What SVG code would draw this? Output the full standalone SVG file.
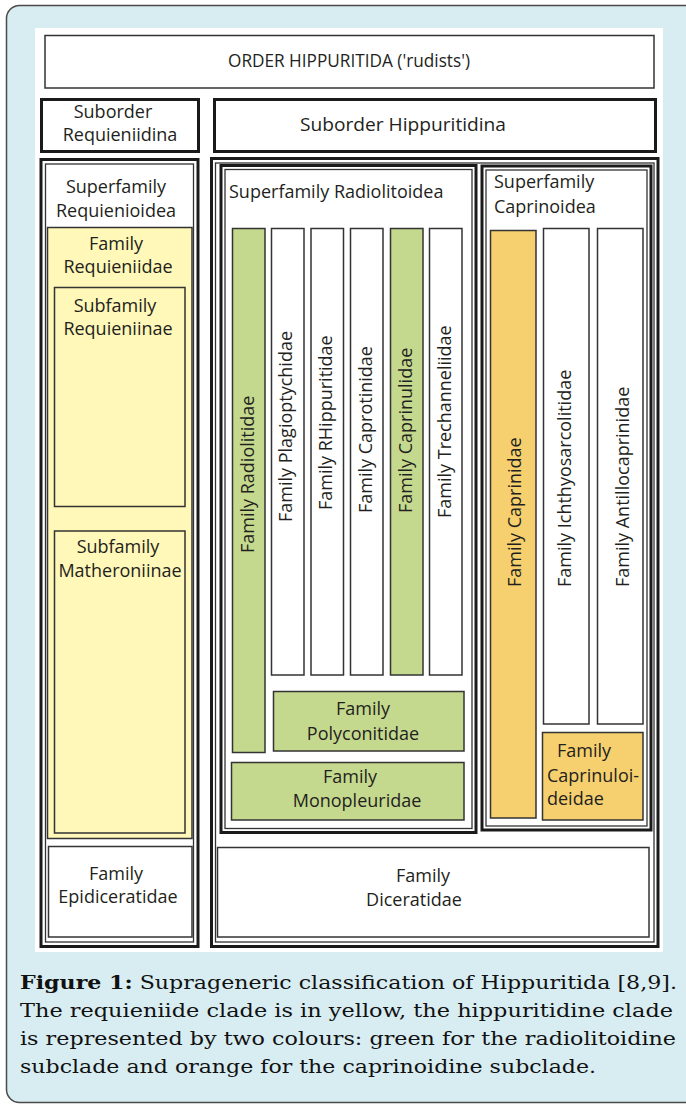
<svg xmlns="http://www.w3.org/2000/svg" width="686" height="1104" viewBox="0 0 686 1104">
<style>
.t{font-family:"Open Sans","Noto Sans",sans-serif;font-size:18px;fill:#231f20}
.m{text-anchor:middle}
.cap{font-family:"DejaVu Serif","Liberation Serif",serif;font-size:19px;fill:#111}
.thin{fill:#fff;stroke:#333;stroke-width:1.5}
.thick{fill:#fff;stroke:#1a1a1a;stroke-width:3}
.in{fill:none;stroke:#333;stroke-width:1.3}
.y{fill:#fff8b8;stroke:#333;stroke-width:1.5}
.g{fill:#c5d98e;stroke:#333;stroke-width:1.5}
.o{fill:#f6d06e;stroke:#333;stroke-width:1.5}
.w{fill:#fff;stroke:#333;stroke-width:1.5}
</style>
<rect x="6.5" y="5.5" width="700" height="1097" rx="13" fill="#d8edf2" stroke="#4a4a4a" stroke-width="1.5"/>
<rect x="35" y="28" width="628" height="924" fill="#fff"/>

<g id="order">
<rect class="thin" x="45" y="35.5" width="609" height="52.5"/>
<text class="t m" x="349" y="67" textLength="242" lengthAdjust="spacingAndGlyphs">ORDER HIPPURITIDA ('rudists')</text>
</g>
<g id="suborder-requieniidina">
<rect class="thick" x="41.5" y="99.5" width="157" height="52"/>
<text class="t m" x="113" y="118">Suborder</text>
<text class="t m" x="120" y="141">Requieniidina</text>
</g>
<g id="suborder-hippuritidina">
<rect class="thick" x="214.5" y="99.5" width="441" height="52"/>
<text class="t m" x="403" y="131" textLength="206" lengthAdjust="spacingAndGlyphs">Suborder Hippuritidina</text>
</g>

<g id="superfamily-requienioidea">
<rect class="thick" x="41" y="159.5" width="157" height="787"/>
<rect class="in" x="45.5" y="164" width="148" height="778"/>
<text class="t m" x="116" y="193">Superfamily</text>
<text class="t m" x="116" y="217">Requienioidea</text>
</g>
<g id="family-requieniidae">
<rect class="y" x="47.5" y="227.5" width="144.5" height="611"/>
<text class="t m" x="116" y="250">Family</text>
<text class="t m" x="118" y="273">Requieniidae</text>
</g>
<g id="subfamily-requieniinae">
<rect class="y" x="54.5" y="287.5" width="130.5" height="219"/>
<text class="t m" x="115" y="312">Subfamily</text>
<text class="t m" x="118" y="335">Requieniinae</text>
</g>
<g id="subfamily-matheroniinae">
<rect class="y" x="54.5" y="531" width="130.5" height="302"/>
<text class="t m" x="118" y="553">Subfamily</text>
<text class="t m" x="120" y="577">Matheroniinae</text>
</g>
<g id="family-epidiceratidae">
<rect class="w" x="48.5" y="846.5" width="143.5" height="90.5"/>
<text class="t m" x="116" y="880">Family</text>
<text class="t m" x="118" y="903">Epidiceratidae</text>
</g>

<g id="hippuritidina-container">
<rect class="thick" x="211.5" y="158.5" width="446.5" height="788"/>
<rect class="in" x="215.5" y="163" width="438.5" height="779"/>
</g>

<g id="superfamily-radiolitoidea">
<rect class="thick" x="221" y="165.5" width="255" height="667"/>
<rect class="in" x="225" y="169.5" width="247" height="659"/>
<text class="t" x="229" y="198">Superfamily Radiolitoidea</text>
</g>
<g id="family-radiolitidae">
<rect class="g" x="232.5" y="228.5" width="32.5" height="524"/>
<text class="t" transform="translate(254,553) rotate(-90)">Family Radiolitidae</text>
</g>
<g id="family-plagioptychidae">
<rect class="w" x="271.5" y="228.5" width="32.5" height="446.5"/>
<text class="t" transform="translate(292,522) rotate(-90)">Family Plagioptychidae</text>
</g>
<g id="family-rhippuritidae">
<rect class="w" x="311" y="228.5" width="32.5" height="446.5"/>
<text class="t" transform="translate(332,510) rotate(-90)">Family RHippuritidae</text>
</g>
<g id="family-caprotinidae">
<rect class="w" x="350.5" y="228.5" width="32.5" height="446.5"/>
<text class="t" transform="translate(372,513) rotate(-90)">Family Caprotinidae</text>
</g>
<g id="family-caprinulidae">
<rect class="g" x="390.5" y="228.5" width="32.5" height="446.5"/>
<text class="t" transform="translate(412,513) rotate(-90)">Family Caprinulidae</text>
</g>
<g id="family-trechanneliidae">
<rect class="w" x="429.5" y="228.5" width="32.5" height="446.5"/>
<text class="t" transform="translate(451,518) rotate(-90)">Family Trechanneliidae</text>
</g>
<g id="family-polyconitidae">
<rect class="g" x="273.5" y="691.5" width="190.5" height="59.5"/>
<text class="t m" x="363" y="715">Family</text>
<text class="t m" x="363" y="740">Polyconitidae</text>
</g>
<g id="family-monopleuridae">
<rect class="g" x="231.5" y="762.5" width="232.5" height="57.5"/>
<text class="t m" x="350" y="783">Family</text>
<text class="t m" x="357" y="807">Monopleuridae</text>
</g>

<g id="superfamily-caprinoidea">
<rect class="thick" x="482" y="166" width="169" height="664"/>
<rect class="in" x="486" y="170" width="161" height="656"/>
<text class="t" x="494" y="188">Superfamily</text>
<text class="t" x="494" y="213">Caprinoidea</text>
</g>
<g id="family-caprinidae">
<rect class="o" x="490.5" y="230.5" width="45.5" height="587.5"/>
<text class="t" transform="translate(521,587) rotate(-90)">Family Caprinidae</text>
</g>
<g id="family-ichthyosarcolitidae">
<rect class="w" x="543.5" y="228.5" width="45.5" height="495.5"/>
<text class="t" transform="translate(571,587) rotate(-90)">Family Ichthyosarcolitidae</text>
</g>
<g id="family-antillocaprinidae">
<rect class="w" x="597.5" y="228.5" width="45.5" height="495.5"/>
<text class="t" transform="translate(629,587) rotate(-90)">Family Antillocaprinidae</text>
</g>
<g id="family-caprinuloideidae">
<rect class="o" x="542.5" y="732.5" width="100.5" height="87.5"/>
<text class="t" x="557" y="757">Family</text>
<text class="t" x="547" y="782">Caprinuloi-</text>
<text class="t" x="547" y="805">deidae</text>
</g>

<g id="family-diceratidae">
<rect class="w" x="217.5" y="847.5" width="431.5" height="89.5"/>
<text class="t m" x="423" y="882">Family</text>
<text class="t m" x="414" y="906">Diceratidae</text>
</g>

<g id="connectors"></g>

<g id="caption">
<text class="cap" x="20" y="989" textLength="657" lengthAdjust="spacingAndGlyphs"><tspan font-weight="bold">Figure 1:</tspan> Suprageneric classification of Hippuritida [8,9].</text>
<text class="cap" x="20" y="1017" textLength="653" lengthAdjust="spacingAndGlyphs">The requieniide clade is in yellow, the hippuritidine clade</text>
<text class="cap" x="20" y="1045" textLength="656" lengthAdjust="spacingAndGlyphs">is represented by two colours: green for the radiolitoidine</text>
<text class="cap" x="20" y="1073" textLength="576" lengthAdjust="spacingAndGlyphs">subclade and orange for the caprinoidine subclade.</text>
</g>
</svg>
